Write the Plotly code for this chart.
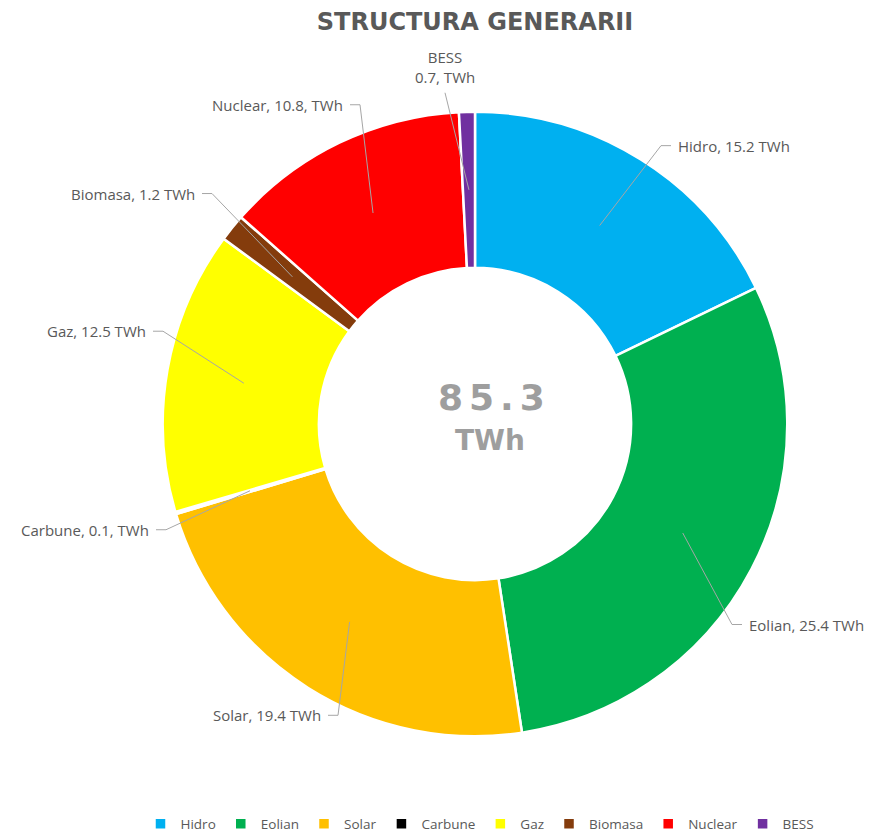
import math
import plotly.graph_objects as go

# Electricity generation mix, TWh
sources = ["Hidro", "Eolian", "Solar", "Carbune", "Gaz", "Biomasa", "Nuclear", "BESS"]
generation_twh = [15.2, 25.4, 19.4, 0.1, 12.5, 1.2, 10.8, 0.7]
colors = ["#00B0F0", "#00B050", "#FFC000", "#000000", "#FFFF00", "#843C0C", "#FF0000", "#7030A0"]
label_formats = [
    "{n}, {v} TWh", "{n}, {v} TWh", "{n}, {v} TWh", "{n}, {v}, TWh",
    "{n}, {v} TWh", "{n}, {v} TWh", "{n}, {v}, TWh", "{n}<br>{v}, TWh",
]
title_text = "STRUCTURA GENERARII"
unit_text = "TWh"

# Canvas and donut geometry (pixels)
W, H = 878, 840
CX, CY = 475, 425
R_OUT = 313
HOLE = 0.5

# Where each leader line bends (pixels) and which side its text sits on
label_elbows = [
    (661, 146, "right"),
    (732, 626, "right"),
    (338, 717, "left"),
    (166, 531, "left"),
    (163, 332, "left"),
    (212, 194, "left"),
    (360, 105, "left"),
    (445, 93, "top"),
]

TEXT_GREY = "#595959"
LINE_GREY = "#A6A6A6"


def px(x):
    return x / W


def py(y):
    return 1 - y / H


fig = go.Figure(
    go.Pie(
        labels=sources,
        values=generation_twh,
        marker=dict(colors=colors, line=dict(color="white", width=2.5)),
        hole=HOLE,
        sort=False,
        direction="clockwise",
        rotation=0,
        textinfo="none",
        hoverinfo="label+value",
        domain=dict(x=[px(CX - R_OUT), px(CX + R_OUT)], y=[py(CY + R_OUT), py(CY - R_OUT)]),
    )
)

total = sum(generation_twh)
shapes = []
annotations = []
r_mid = R_OUT * (1 + HOLE) / 2
cum = 0.0
for name, val, fmt, (ex, ey, side) in zip(sources, generation_twh, label_formats, label_elbows):
    mid = (cum + val / 2) / total * 2 * math.pi
    cum += val
    ax = CX + r_mid * math.sin(mid)
    ay = CY - r_mid * math.cos(mid)
    text = fmt.format(n=name, v=val)
    if side == "top":
        path = f"M {px(ax)} {py(ay)} L {px(ex)} {py(ey)}"
        annotations.append(dict(
            x=px(ex), y=py(ey - 4), xanchor="center", yanchor="bottom", align="center",
            text=text, showarrow=False,
        ))
    else:
        sgn = 1 if side == "right" else -1
        hx = ex + sgn * 10
        path = f"M {px(ax)} {py(ay)} L {px(ex)} {py(ey)} L {px(hx)} {py(ey)}"
        annotations.append(dict(
            x=px(hx + sgn * 5), y=py(ey), xanchor="left" if sgn > 0 else "right",
            yanchor="middle", text=text, showarrow=False,
        ))
    shapes.append(dict(type="path", xref="paper", yref="paper", path=path,
                       line=dict(color=LINE_GREY, width=1)))

for a in annotations:
    a.update(xref="paper", yref="paper",
             font=dict(family="Open Sans, Liberation Sans, sans-serif", size=15, color=TEXT_GREY))

# Total in the middle of the ring
total_str = "\u2006".join(f"{total:.1f}")
annotations.append(dict(
    xref="paper", yref="paper", x=px(491), y=py(398), xanchor="center", yanchor="middle",
    text=f"<b>{total_str}</b>", showarrow=False,
    font=dict(family="DejaVu Sans", size=36, color="#9E9E9E"),
))
annotations.append(dict(
    xref="paper", yref="paper", x=px(490), y=py(442), xanchor="center", yanchor="middle",
    text=f"<b>{unit_text}</b>", showarrow=False,
    font=dict(family="DejaVu Sans", size=28, color="#9E9E9E"),
))

fig.update_layout(
    width=W,
    height=H,
    margin=dict(l=0, r=0, t=0, b=0),
    paper_bgcolor="white",
    plot_bgcolor="white",
    title=dict(
        text=f"<b>{title_text}</b>", x=px(CX), xanchor="center", y=py(22), yanchor="middle",
        xref="paper", yref="paper",
        font=dict(family="DejaVu Sans", size=24, color=TEXT_GREY),
    ),
    showlegend=True,
    legend=dict(
        orientation="h", x=px(480), xanchor="center", y=py(826), yanchor="middle",
        font=dict(family="Open Sans, Liberation Sans, sans-serif", size=13.5, color=TEXT_GREY),
        traceorder="normal",
    ),
    shapes=shapes,
    annotations=annotations,
)

fig.write_html("out.html")
